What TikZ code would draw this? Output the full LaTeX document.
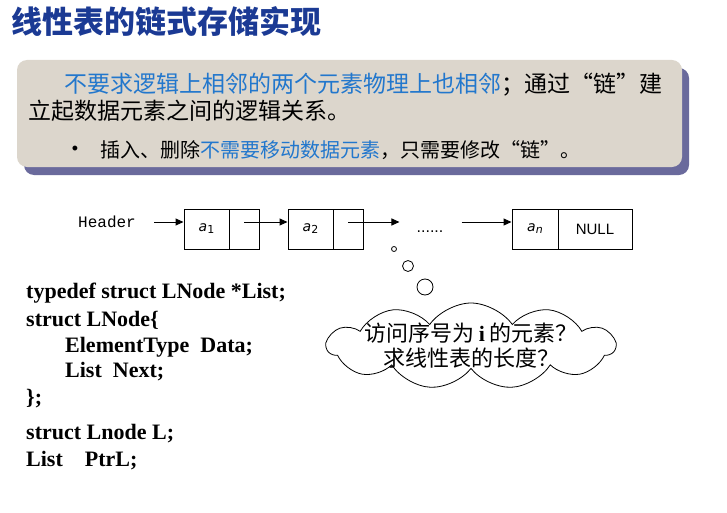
\documentclass[tikz,border=0pt]{standalone}
\usepackage{fontspec}
\usetikzlibrary{arrows.meta,shapes.symbols}
\setmainfont{Liberation Serif}
\newfontfamily\cjk{Noto Sans CJK SC}
\newfontfamily\hdrfont{Liberation Mono}
\newfontfamily\nulltxt{Liberation Sans}
\newfontfamily\celltxt{DejaVu Sans}
\newcommand{\elem}[1]{{\celltxt\itshape a}\raisebox{-0.3ex}{\celltxt\fontsize{11}{11}\selectfont #1}}
\definecolor{titleblue}{RGB}{27,58,148}
\definecolor{textblue}{RGB}{34,119,204}
\definecolor{panelgray}{RGB}{220,214,204}
\definecolor{panelshadow}{RGB}{106,106,156}
\tikzset{
  cell/.style={draw, line width=1pt, minimum height=40pt, inner sep=0pt, font=\fontsize{14}{14}\selectfont},
  link/.style={line width=1pt, -{Triangle[length=8pt,width=7pt]}},
  bubble/.style={draw, circle, line width=0.8pt, inner sep=0pt},
  codeline/.style={anchor=west, inner sep=0pt, font=\fontsize{22}{26}\selectfont\bfseries},
  ptext/.style={anchor=west, inner sep=0pt, font=\cjk\fontsize{23}{26}\selectfont},
}

\begin{document}
\begin{tikzpicture}[x=1pt, y=-1pt]
\useasboundingbox (0,0) rectangle (727,513);
% Title
\node[anchor=west, inner sep=0pt, text=titleblue, font=\cjk\bfseries\fontsize{31}{34}\selectfont] (title) at (11,22) {线性表的链式存储实现};

% Panel
\fill[panelshadow, rounded corners=10pt] (24,68) rectangle (689,175);
\fill[panelgray, rounded corners=10pt] (17,60) rectangle (682,167);
\node[ptext] (line1) at (64,85) {{\color{textblue}不要求逻辑上相邻的两个元素物理上也相邻}；通过“链”建};
\node[ptext] (line2) at (28,111) {立起数据元素之间的逻辑关系。};
\node[anchor=center, inner sep=0pt, font=\nulltxt\fontsize{18}{20}\selectfont] (dot) at (75,150) {•};
\node[ptext, font=\cjk\fontsize{20}{24}\selectfont] (line3) at (100,150) {插入、删除{\color{textblue}不需要移动数据元素}，只需要修改“链”。};

% Linked list
\node[anchor=west, inner sep=0pt, font=\hdrfont\fontsize{16}{16}\selectfont] (hdr) at (78,222) {Header};
\node[cell, minimum width=45pt] (d1) at (206.5,229) {\elem{1}};
\node[cell, minimum width=30pt] (p1) at (244,229) {};
\node[cell, minimum width=45pt] (d2) at (310.5,229) {\elem{2}};
\node[cell, minimum width=30pt] (p2) at (348,229) {};
\node[anchor=base, inner sep=0pt, font=\nulltxt\fontsize{16}{16}\selectfont] (dots) at (430,232) {......};
\node[cell, minimum width=46pt] (dn) at (535,229) {\elem{\itshape n}};
\node[cell, minimum width=74pt, font=\nulltxt\fontsize{15}{15}\selectfont] (pn) at (595,229) {NULL};

% Connections
\draw[link, shorten <=18pt] (hdr.east) -- (hdr.east -| d1.west);
\draw[link] (p1.center |- hdr) -- (d2.west |- hdr);
\draw[link, shorten >=17pt] (p2.center |- hdr) -- (dots.west |- hdr);
\draw[link, shorten <=18pt] (dots.east |- hdr) -- (dn.west |- hdr);

% Thought bubble
\node[bubble, minimum size=5pt] (c1) at (394,249) {};
\node[bubble, minimum size=11pt] (c2) at (408,266) {};
\node[bubble, minimum size=16pt] (c3) at (425,287) {};
\node[cloud, draw, line width=0.8pt, cloud puffs=11, cloud puff arc=110, cloud ignores aspect, minimum width=288pt, minimum height=86pt, inner sep=0pt] (ask) at (471,346) {};
\node[align=center, inner sep=0pt, font=\cjk\fontsize{22}{25}\selectfont] (asktext) at (ask.center) {访问序号为 {\rmfamily\bfseries i} 的元素？\\求线性表的长度？};

% Code
\node[codeline] (code1) at (26,293) {typedef struct LNode *List;};
\node[codeline] (code2) at (26,320) {struct LNode\{};
\node[codeline] (code3) at (65,347) {ElementType\ \ Data;};
\node[codeline] (code4) at (65,372) {List\ \ Next;};
\node[codeline] (code5) at (26,399) {\};};
\node[codeline] (code6) at (26,434) {struct Lnode L;};
\node[codeline] (code7) at (26,461) {List\ \ \ \ PtrL;};
\end{tikzpicture}
\end{document}
